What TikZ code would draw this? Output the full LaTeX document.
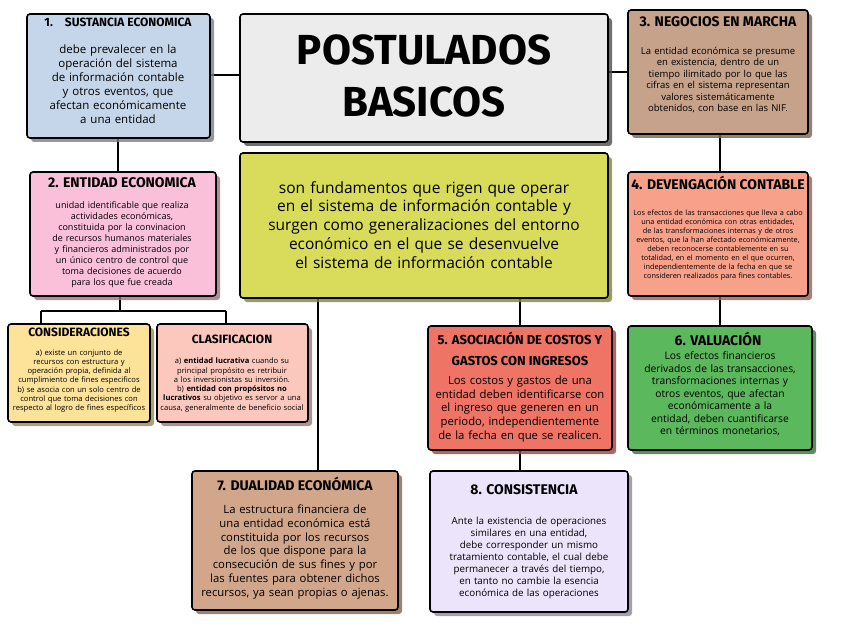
\documentclass[tikz,border=0pt]{standalone}
\usepackage{fontspec}
\setmainfont{Open Sans}
\newfontfamily\tf{Fira Sans}
\usetikzlibrary{shadows}
\definecolor{cb}{HTML}{C5D6EA}\definecolor{cg}{HTML}{ECECEC}\definecolor{cbr}{HTML}{C7A28A}
\definecolor{cy}{HTML}{D8DC5A}\definecolor{cp}{HTML}{FBC0D9}\definecolor{cc}{HTML}{FDE29A}
\definecolor{ccl}{HTML}{FCC8BD}\definecolor{cs}{HTML}{F7A08A}\definecolor{cr}{HTML}{F07466}
\definecolor{cgr}{HTML}{5CB85C}\definecolor{ct}{HTML}{D2A68A}\definecolor{cl}{HTML}{ECE4FB}
\begin{document}
\begin{tikzpicture}[x=1pt,y=-1pt,
 bx/.style={draw=black,line width=1.6pt,rounded corners=3pt,drop shadow={shadow xshift=4pt,shadow yshift=-4pt,fill=#1!60!black,opacity=.8}},
 ln/.style={line width=1.2pt},
 tt/.style={font=\tf\bfseries\fontsize{14}{16}\selectfont},
 bd/.style={align=center,inner sep=0pt,execute at begin node={\hyphenpenalty=10000\exhyphenpenalty=10000},font=\fontsize{#1}{1.22\dimexpr#1pt\relax}\selectfont}]
\useasboundingbox (0,0) rectangle (848,636);
\draw[ln] (210,75)--(240,75) (608,72)--(628,72) (118,138)--(118,172) (720,134)--(720,172) (720,296)--(720,326)
 (120,296)--(120,311) (41,311)--(226,311) (41,311)--(41,324) (226,311)--(226,324)
 (318,298)--(318,471) (520,298)--(520,326) (520,450)--(520,471);
\path[bx=cb,fill=cb] (27,14) rectangle (210,138);
\node[tt,font=\tf\bfseries\fontsize{12}{14}\selectfont] (t1) at (118,22) {1.\quad SUSTANCIA ECONOMICA};
\node[bd=11.5,text width=172pt] (b1) at (118,84) {debe prevalecer en la operación del sistema de información contable y otros eventos, que afectan económicamente a una entidad};
\path[bx=gray,fill=cg] (240,14) rectangle (608,142);
\node[font=\tf\bfseries\fontsize{42}{52}\selectfont,align=center] (tit) at (424,76) {POSTULADOS\\BASICOS};
\path[bx=cbr,fill=cbr] (628,10) rectangle (808,134);
\node[tt] (t3) at (718,22) {3. NEGOCIOS EN MARCHA};
\node[bd=9.5,text width=165pt] (b3) at (718,80) {La entidad económica se presume en existencia, dentro de un tiempo ilimitado por lo que las cifras en el sistema representan valores sistemáticamente obtenidos, con base en las NIF.};
\path[bx=cy,fill=cy] (240,153) rectangle (608,298);
\node[bd=15.5,text width=345pt] (by) at (424,225) {son fundamentos que rigen que operar en el sistema de información contable y surgen como generalizaciones del entorno económico en el que se desenvuelve el sistema de información contable};
\path[bx=cp,fill=cp] (30,172) rectangle (216,296);
\node[tt] (t2) at (122,183) {2. ENTIDAD ECONOMICA};
\node[bd=9,text width=150pt] (b2) at (122,245) {unidad identificable que realiza actividades económicas, constituida por la convinacion de recursos humanos materiales y financieros administrados por un único centro de control que toma decisiones de acuerdo para los que fue creada};
\path[bx=cc,fill=cc] (8,324) rectangle (150,422);
\node[tt,font=\tf\bfseries\fontsize{12}{13}\selectfont] (tc) at (79,332) {CONSIDERACIONES};
\node[bd=7.6,text width=138pt] (bc) at (79,381) {a) existe un conjunto de recursos con estructura y operación propia, definida al cumplimiento de fines especificos\\b) se asocia con un solo centro de control que toma decisiones con respecto al logro de fines específicos};
\path[bx=ccl,fill=ccl] (157,324) rectangle (308,422);
\node[tt,font=\tf\bfseries\fontsize{12}{13}\selectfont] (tcl) at (232,339) {CLASIFICACION};
\node[bd=7.6,text width=146pt] (bcl) at (232,385) {a) \textbf{entidad lucrativa} cuando su principal propósito es retribuir a los inversionistas su inversión.\\b) \textbf{entidad con propósitos no lucrativos} su objetivo es servor a una causa, generalmente de beneficio social};
\path[bx=cs,fill=cs] (628,172) rectangle (808,296);
\node[tt] (t4) at (718,183) {4. DEVENGACIÓN CONTABLE};
\node[bd=7.3,text width=176pt] (b4) at (718,245) {Los efectos de las transacciones que lleva a cabo una entidad económica con otras entidades, de las transformaciones internas y de otros eventos, que la han afectado económicamente, deben reconocerse contablemente en su totalidad, en el momento en el que ocurren, independientemente de la fecha en que se consideren realizados para fines contables.};
\path[bx=cr,fill=cr] (428,326) rectangle (612,450);
\node[tt,align=center,font=\tf\bfseries\fontsize{13}{21}\selectfont] (t5) at (520,349) {5. ASOCIACIÓN DE COSTOS Y\\GASTOS CON INGRESOS};
\node[bd=11.3,text width=180pt] (b5) at (520,409) {Los costos y gastos de una entidad deben identificarse con el ingreso que generen en un periodo, independientemente de la fecha en que se realicen.};
\path[bx=cgr,fill=cgr] (628,326) rectangle (812,450);
\node[tt] (t6) at (718,339) {6. VALUACIÓN};
\node[bd=10.3,text width=166pt] (b6) at (720,394) {Los efectos financieros derivados de las transacciones, transformaciones internas y otros eventos, que afectan económicamente a la entidad, deben cuantificarse en términos monetarios,};
\path[bx=ct,fill=ct] (192,471) rectangle (398,610);
\node[tt] (t7) at (295,484) {7. DUALIDAD ECONÓMICA};
\node[bd=11.3,text width=192pt] (b7) at (295,552) {La estructura financiera de una entidad económica está constituida por los recursos de los que dispone para la consecución de sus fines y por las fuentes para obtener dichos recursos, ya sean propias o ajenas.};
\path[bx=cl,fill=cl] (430,471) rectangle (628,612);
\node[tt] (t8) at (524,490) {8. CONSISTENCIA};
\node[bd=9.8,text width=185pt] (b8) at (529,558) {Ante la existencia de operaciones similares en una entidad, debe corresponder un mismo tratamiento contable, el cual debe permanecer a través del tiempo, en tanto no cambie la esencia económica de las operaciones};
\end{tikzpicture}
\end{document}
